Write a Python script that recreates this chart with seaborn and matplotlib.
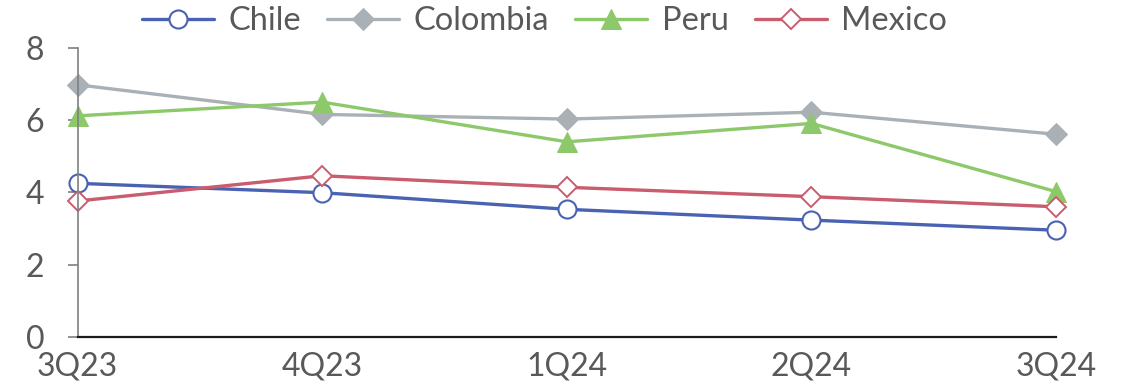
import matplotlib
matplotlib.use("Agg")
import matplotlib.pyplot as plt
import pandas as pd
import seaborn as sns

quarters = ["3Q23", "4Q23", "1Q24", "2Q24", "3Q24"]
chile = [4.25, 3.99, 3.53, 3.23, 2.95]
colombia = [6.98, 6.16, 6.03, 6.22, 5.61]
peru = [6.12, 6.50, 5.40, 5.91, 4.02]
mexico = [3.76, 4.46, 4.14, 3.88, 3.60]
yticks = [0, 2, 4, 6, 8]

sns.set_theme(style="white")
plt.rcParams["font.family"] = ["Lato", "DejaVu Sans"]

text_color = "#595959"
series = [
    ("Chile", chile, dict(color="#4A62B2", marker="o", markersize=13,
                          markerfacecolor="white", markeredgecolor="#4A62B2",
                          markeredgewidth=1.5)),
    ("Colombia", colombia, dict(color="#A9B1B7", marker="D", markersize=11,
                                markerfacecolor="#A9B1B7", markeredgecolor="#A9B1B7")),
    ("Peru", peru, dict(color="#8DC86A", marker="^", markersize=14,
                        markerfacecolor="#8DC86A", markeredgecolor="#8DC86A")),
    ("Mexico", mexico, dict(color="#C95C6D", marker="D", markersize=10,
                            markerfacecolor="white", markeredgecolor="#C95C6D",
                            markeredgewidth=1.4)),
]

fig = plt.figure(figsize=(11.25, 3.87), dpi=100)
ax = fig.add_axes([0.069, 0.130, 0.8697, 0.746])

for name, vals, style in series:
    df = pd.DataFrame({"quarter": range(len(quarters)), "value": vals})
    sns.lineplot(data=df, x="quarter", y="value", ax=ax, label=name,
                 linewidth=2.4, clip_on=False, **style)

ax.set_xlim(0, len(quarters) - 1)
ax.set_ylim(0, 8)
ax.set_xticks(range(len(quarters)))
ax.set_xticklabels(quarters)
ax.set_yticks(yticks)
ax.set_xlabel("")
ax.set_ylabel("")

for side in ("top", "right"):
    ax.spines[side].set_visible(False)
ax.spines["left"].set_color("#7F7F7F")
ax.spines["left"].set_linewidth(1.2)
ax.spines["bottom"].set_color("#1A1A1A")
ax.spines["bottom"].set_linewidth(1.6)

ax.tick_params(axis="x", length=0, pad=11, labelsize=23, labelcolor=text_color)
ax.tick_params(axis="y", length=7, width=1.2, color="#7F7F7F", direction="out",
               pad=17, labelsize=23, labelcolor=text_color, left=True)

ax.legend_.remove()
handles, labels = ax.get_legend_handles_labels()
leg = fig.legend(handles, labels, loc="center", bbox_to_anchor=(0.484, 0.945),
                 ncol=4, frameon=False, fontsize=23.5, handlelength=2.2,
                 handletextpad=0.45, columnspacing=0.8, borderaxespad=0)
for t in leg.get_texts():
    t.set_color(text_color)

fig.savefig("out.png", dpi=100)
